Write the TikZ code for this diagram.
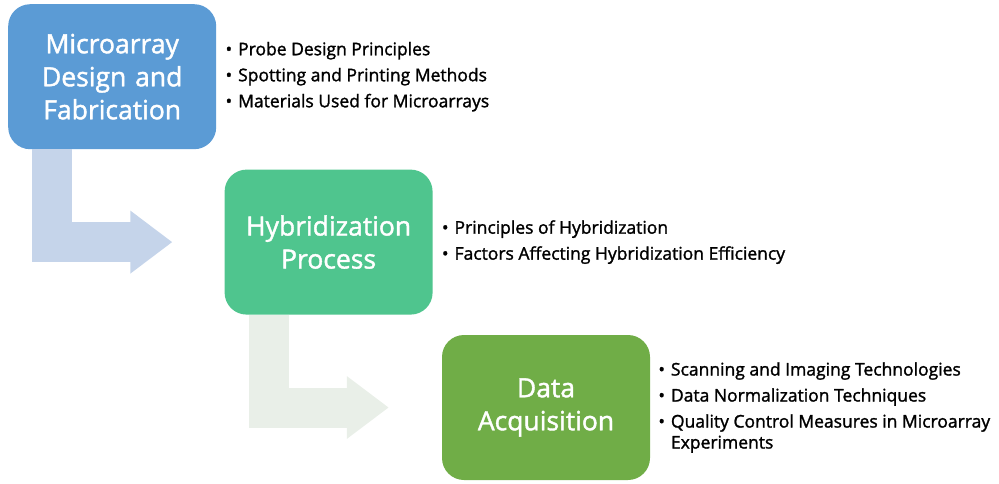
\documentclass[tikz,border=0pt]{standalone}
\usepackage{fontspec}
\setmainfont{Open Sans}[RawFeature={embolden=1.5}]
\usepackage{xcolor}
\usetikzlibrary{positioning, arrows.meta}

\definecolor{boxblue}{HTML}{5B9BD5}
\definecolor{boxgreen}{HTML}{4FC58E}
\definecolor{boxolive}{HTML}{70AD47}
\definecolor{arrowblue}{HTML}{C5D4EA}
\definecolor{arrowgrey}{HTML}{E9EFE8}

\newcommand{\pt}{\textbullet\hspace{6pt}}

\begin{document}
\begin{tikzpicture}[
    box/.style={rectangle, rounded corners=22pt, inner sep=0pt, minimum width=208pt, minimum height=145pt, text width=200pt, align=center, text=white, font=\fontsize{26.5}{33}\selectfont},
    notes/.style={anchor=west, align=left, inner sep=0pt, font=\fontsize{17.5}{21}\selectfont},
    bendarrow/.style={line width=40pt, -{Triangle[length=42pt, width=60pt]}}
]
    \useasboundingbox (0pt,0pt) rectangle (999pt,-483pt);

    \node (step1) [box, fill=boxblue, anchor=north west] at (8pt,-4pt) {Microarray\\Design and\\Fabrication};
    \node (step2) [box, fill=boxgreen, below right=20pt and 8pt of step1] {Hybridization\\Process};
    \node (step3) [box, fill=boxolive, below right=20pt and 9pt of step2] {Data\\Acquisition};

    \node (notes1) [notes, right=9pt of step1] {\pt Probe Design Principles\\[5pt]
        \pt Spotting and Printing Methods\\[5pt]
        \pt Materials Used for Microarrays};
    \node (notes2) [notes, right=9pt of step2] {\pt Principles of Hybridization\\[5pt]
        \pt Factors Affecting Hybridization Efficiency};
    \node (notes3) [notes, right=8pt of step3] {\pt Scanning and Imaging Technologies\\[5pt]
        \pt Data Normalization Techniques\\[5pt]
        \pt Quality Control Measures in Microarray\\
        \hphantom{\pt}Experiments};

    \coordinate (tip1) at ([xshift=-52pt]step2.west);
    \coordinate (tip2) at ([xshift=-53pt]step3.west);

    \path [bendarrow, draw=arrowblue] ([xshift=-60pt]step1.south) |- (tip1);
    \path [bendarrow, draw=arrowgrey] ([xshift=-60pt]step2.south) |- (tip2);
\end{tikzpicture}
\end{document}
